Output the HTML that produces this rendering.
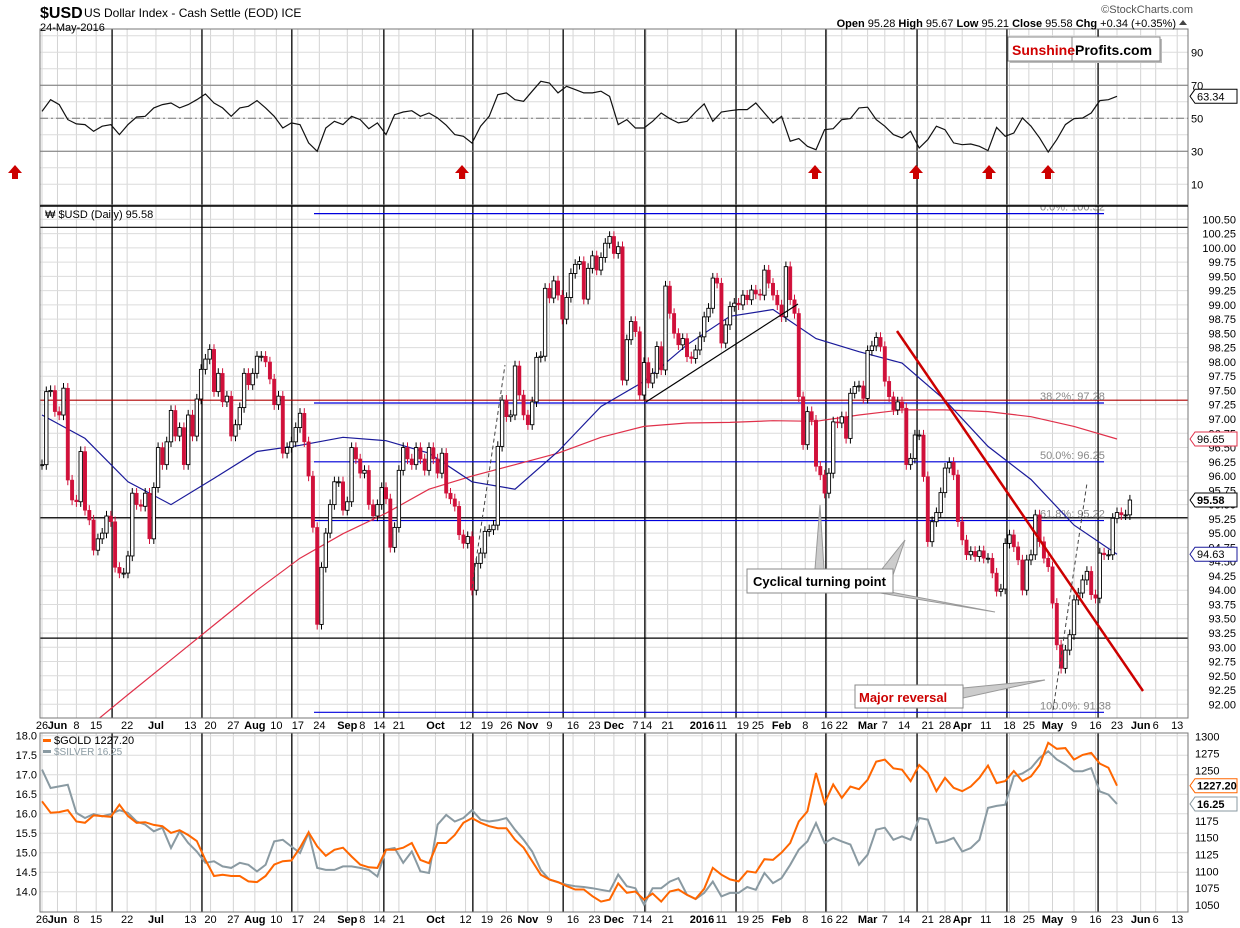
<!DOCTYPE html>
<html><head><meta charset="utf-8">
<style>
html,body{margin:0;padding:0;background:#fff;}
svg{display:block;font-family:"Liberation Sans",sans-serif;}
</style></head>
<body>
<svg id="chart" width="1240" height="928" viewBox="0 0 1240 928" xmlns="http://www.w3.org/2000/svg">
<defs>
<clipPath id="cRsi"><rect x="40" y="29" width="1148" height="176"/></clipPath>
<clipPath id="cMain"><rect x="40" y="206" width="1148" height="512"/></clipPath>
<clipPath id="cBot"><rect x="40" y="733" width="1148" height="179"/></clipPath>
</defs>
<g id="grid"></g>
<g id="cycles"></g>
<g id="rsi" clip-path="url(#cRsi)"></g>
<g id="main" clip-path="url(#cMain)"></g>
<g id="bot" clip-path="url(#cBot)"></g>
<g id="axes"></g>

<text x="40" y="18" font-size="16" font-weight="bold">$USD</text>
<text x="84" y="17" font-size="12">US Dollar Index - Cash Settle (EOD) ICE</text>
<text x="40" y="31" font-size="11">24-May-2016</text>
<text x="1193" y="13" font-size="11" fill="#555" text-anchor="end">©StockCharts.com</text>
<text x="1176" y="27" font-size="11" text-anchor="end"><tspan font-weight="bold">Open</tspan> 95.28 <tspan font-weight="bold">High</tspan> 95.67 <tspan font-weight="bold">Low</tspan> 95.21 <tspan font-weight="bold">Close</tspan> 95.58 <tspan font-weight="bold">Chg</tspan> +0.34 (+0.35%)</text>
<path d="M1179 25 L1183 20 L1187 25 Z" fill="#444"/>

<g>
<rect x="1010" y="39" width="152" height="24" fill="#bbb"/>
<rect x="1008" y="37" width="152" height="24" fill="#fff" stroke="#888"/>
<line x1="1072" y1="37" x2="1072" y2="61" stroke="#888"/>
<text x="1012" y="55" font-size="14" font-weight="bold" fill="#d00000">Sunshine</text>
<text x="1075" y="55" font-size="14" font-weight="bold" fill="#000">Profits.com</text>
</g>

<text x="45" y="218" font-size="11">₩ $USD (Daily) 95.58</text>
<g><rect x="43" y="739" width="8" height="3" fill="#ff6600"/><text x="54" y="744" font-size="11">$GOLD 1227.20</text></g>
<g><rect x="43" y="750" width="8" height="3" fill="#8a9aa2"/><text x="54" y="755" font-size="10" fill="#8a9aa2">$SILVER 16.25</text></g>

<script>
// ---------- DATA ----------
const usdCloses = [96.2,97.48,97.5,97.13,97.07,97.54,95.93,95.58,95.55,96.43,
95.4,95.23,94.7,94.9,95.0,95.3,95.2,94.4,94.3,94.3,
94.6,95.7,95.5,95.47,95.7,94.9,95.8,96.5,96.2,96.6,
97.15,96.7,96.85,96.2,97.07,96.7,97.35,97.87,98.05,98.22,
97.48,97.8,97.3,97.4,96.7,96.9,97.2,97.8,97.6,97.8,
98.1,98.1,98.0,97.7,97.25,97.4,96.4,96.5,96.6,96.85,
97.1,96.6,96.0,95.1,93.4,94.4,95.0,95.5,95.9,95.9,
95.4,95.55,96.5,96.3,96.05,96.1,95.5,95.3,95.5,95.8,
95.6,94.75,95.1,96.1,96.5,96.3,96.2,96.5,96.3,96.1,
96.5,96.3,96.05,96.4,95.7,95.6,
95.47,94.97,94.82,94.94,94.0,94.47,94.65,95.03,95.06,95.14,
96.52,97.33,97.04,97.07,97.93,97.42,97.07,96.9,97.3,98.08,
98.1,99.29,99.12,99.42,99.17,98.75,99.13,99.55,99.71,99.76,
99.1,99.64,99.86,99.61,99.83,100.08,100.2,99.9,100.02,97.68,
98.39,98.71,98.53,97.42,97.99,97.63,97.8,98.27,97.86,99.33,
98.85,98.5,98.3,98.41,98.09,98.06,98.21,98.44,98.79,98.94,
99.47,99.38,98.33,98.65,98.97,99.03,99.0,99.17,99.09,99.26,
99.19,99.17,99.61,99.38,99.17,99.0,98.79,99.67,99.09,98.85,
97.39,96.55,97.13,96.98,96.17,96.02,95.7,96.05,96.95,96.93,
97.04,96.66,97.45,97.57,97.58,97.36,98.2,98.28,98.43,98.27,
97.66,97.39,97.16,97.3,97.19,96.2,96.31,96.72,96.72,95.99,
94.85,95.2,95.36,95.71,96.14,96.24,96.02,95.2,94.88,94.62,
94.68,94.59,94.69,94.56,94.56,94.3,93.98,94.02,94.82,94.97,
94.76,94.53,94.0,94.53,94.62,95.32,94.85,94.56,94.41,93.77,
93.04,92.63,92.95,93.22,93.83,93.95,94.18,94.33,93.92,93.86,
94.65,94.62,94.62,95.26,95.36,95.32,95.32,95.58];
// 50-day MA sampled every 10 trading days
const ma50 = [97.07,96.66,95.9,95.5,95.96,96.43,96.54,96.68,96.62,96.4,95.9,95.77,96.43,97.22,97.66,98.3,98.8,98.92,98.41,98.18,97.98,97.33,96.52,95.94,95.14,94.63];
// 200-day MA sampled every 10 trading days (first sample before series start)
const ma200 = [null,91.55,92.17,92.78,93.39,94.0,94.56,94.99,95.35,95.77,96.0,96.2,96.4,96.68,96.87,96.93,96.94,96.97,96.96,97.07,97.16,97.16,97.13,97.04,96.87,96.65];
// RSI(14) sampled every 2 trading days
const rsiVals = [54.2,61.3,58.3,49.2,46.6,46.2,42.1,45.2,46.2,40.1,
46.2,50.8,51.2,56.3,58.3,59.3,56.3,58.3,61.3,64.7,
59.3,56.3,51.2,56.3,57.3,60.7,56.3,51.2,44.1,47.2,
46.2,35.1,30,44.1,48.2,46.2,51.2,49.2,43.7,47.2,
40.1,52.2,53.8,54.6,51.2,53.2,50.2,45.8,40.1,39.1,
35,45.2,51.2,64.3,65.4,61.3,60.3,66.4,72.4,71.4,
65.4,69.4,67.4,65.4,65.4,66.4,63.3,46.2,49.2,44.1,
44.1,48.2,53.2,49.8,47.2,48.2,53.8,58.7,48.2,53.8,
54.6,55.3,55.3,59.3,53.2,47.2,51.2,36.1,37.7,33.0,
31.0,43.1,43.7,49.2,49.8,56.3,56.7,49.2,45.2,40.1,
38.1,42.1,32.0,37.1,45.2,43.1,35.1,34.0,34.4,33.0,
30.4,44.5,39.1,41.1,50.2,45.2,38.1,29.6,37.1,46.2,
49.8,50.2,53.2,60.7,61.3,63.34];
// Gold & Silver sampled every 2 trading days
const goldVals = [1204,1187,1188,1191,1174,1172,1183,1182,1181,1199,
1182,1172,1173,1169,1167,1157,1161,1154,1145,1117,
1093,1095,1093,1093,1085,1084,1093,1110,1115,1116,
1135,1158,1137,1123,1132,1135,1122,1110,1106,1105,
1132,1132,1135,1142,1117,1112,1142,1142,1154,1172,
1179,1172,1167,1164,1164,1147,1135,1115,1095,1088,
1084,1078,1073,1073,1063,1055,1058,1082,1068,1070,
1058,1067,1055,1070,1073,1065,1059,1074,1105,1095,
1088,1085,1100,1098,1118,1117,1128,1142,1174,1189,
1246,1201,1229,1209,1226,1222,1236,1263,1266,1253,
1251,1234,1258,1246,1219,1239,1224,1219,1226,1239,
1257,1231,1234,1249,1234,1241,1258,1291,1282,1283,
1266,1273,1276,1260,1254,1227.2];
const silverVals = [17.13,16.66,16.70,16.74,16.02,15.89,15.99,15.93,15.99,16.09,
16.02,15.80,15.72,15.55,15.64,15.12,15.55,15.25,15.03,14.74,
14.78,14.65,14.61,14.74,14.69,14.52,14.69,15.29,15.33,15.16,
14.99,15.51,14.61,14.56,14.56,14.65,14.65,14.61,14.56,14.39,
15.08,15.12,14.74,15.03,14.52,14.48,15.72,15.97,15.80,15.89,
16.09,15.85,15.80,15.83,15.89,15.59,15.33,15.03,14.56,14.31,
14.24,14.18,14.14,14.12,14.09,14.05,14.01,14.44,14.14,14.09,
13.67,14.09,14.09,14.26,14.35,13.92,13.81,13.97,14.26,13.88,
13.97,13.97,14.12,14.05,14.48,14.22,14.35,14.69,15.08,15.29,
15.76,15.25,15.38,15.29,15.21,14.69,14.95,15.59,15.64,15.33,
15.42,15.33,15.89,15.85,15.25,15.29,15.38,15.03,15.12,15.33,
16.15,16.20,16.23,16.96,17.03,17.17,17.43,17.60,17.39,17.26,
17.09,17.09,17.17,16.57,16.49,16.25];
const weekLabels = ["26","Jun","8","15","22","Jul","13","20","27","Aug","10","17","24","Sep","8","14","21","Oct","12","19","26","Nov","9","16","23","Dec","7","14","21","2016","11","19","25","Feb","8","16","22","Mar","7","14","21","28","Apr","11","18","25","May","9","16","23","Jun","6","13"];
const weekLabelDays = [0,3.6,8,12.6,19.8,26.5,34.5,39.2,44.5,49.5,54.5,59.5,64.5,71,74.5,78.5,83,91.5,98.5,103.5,108,113,118,123.5,128.5,133,138,140.5,145.5,153.5,158,163,166.5,172,177.5,182.5,186,192,196,200.5,206,210,214,219.5,225,229.5,235,240,245,250,255.5,259,264];
const priceTicks = [92,92.25,92.5,92.75,93,93.25,93.5,93.75,94,94.25,94.5,94.75,95,95.25,95.5,95.75,96,96.25,96.5,96.75,97,97.25,97.5,97.75,98,98.25,98.5,98.75,99,99.25,99.5,99.75,100,100.25,100.5];
const rsiTicks = [10,30,50,70,90];
const goldTicks = [1050,1075,1100,1125,1150,1175,1200,1225,1250,1275,1300];
const silverTicks = [14.0,14.5,15.0,15.5,16.0,16.5,17.0,17.5,18.0];
const cycleDays = [16.3,37.2,58.1,79.5,100.2,121.2,140.2,161.4,182.3,203.5,224.4,245.6];
const SAMPLE_STEP = 2;

// ---------- SCALES ----------
const xD = i => 42 + i*4.3;
const yP = p => 219.3 + (100.5-p)*57.06;
const yR = r => 118.3 - (r-50)*1.65;
const yS = s => 735.7 + (18-s)*39;
const yG = g => 736.7 + (1300-g)*0.673;
const NS = "http://www.w3.org/2000/svg";
function mk(parent, tag, attrs, txt){
  const e = document.createElementNS(NS, tag);
  for (const k in attrs) e.setAttribute(k, attrs[k]);
  if (txt !== undefined) e.textContent = txt;
  parent.appendChild(e); return e;
}
const G = document.getElementById('grid'), CY = document.getElementById('cycles');
const R = document.getElementById('rsi'), M = document.getElementById('main'), B = document.getElementById('bot'), AX = document.getElementById('axes');

[[29,205],[206,718],[733,912]].forEach(([t,b])=>{
  weekLabelDays.forEach(d=>{
    const x = xD(d);
    if (x>40 && x<1188) {
      const l = mk(G,'line',{x1:x,y1:t,x2:x,y2:b,stroke:'#d4d4d4','stroke-width':1});
      
      
    }
  });
});
rsiTicks.forEach(v=>{ [v, v+10].forEach(w=>{ if (w<=100){ const l=mk(G,'line',{x1:40,y1:yR(w),x2:1188,y2:yR(w),stroke:'#dcdcdc'});   } }); });
priceTicks.forEach(p=>{ const l=mk(G,'line',{x1:40,y1:yP(p),x2:1188,y2:yP(p),stroke:'#dcdcdc'});   });
silverTicks.forEach(s=>{ const l=mk(G,'line',{x1:40,y1:yS(s),x2:1188,y2:yS(s),stroke:'#dcdcdc'});   });

cycleDays.forEach(d=>{
  const x = xD(d);
  [[29,205],[206,718],[733,912]].forEach(([t,b])=>{
    const l = mk(CY,'line',{x1:x,y1:t,x2:x,y2:b,stroke:'#000','stroke-width':1.3});
    
    
  });
});

// ---------- RSI ----------
[[70,'#777',''],[30,'#777',''],[50,'#777','8 3 2 3']].forEach(([v,c,da])=>{
  const l = mk(R,'line',{x1:40,y1:yR(v),x2:1188,y2:yR(v),stroke:c,'stroke-dasharray':da});
  
  
});
const rsiPath = mk(R,'path',{d:rsiVals.map((v,i)=>(i?'L':'M')+xD(i*SAMPLE_STEP).toFixed(1)+' '+yR(v).toFixed(1)).join(' '),fill:'none',stroke:'#111','stroke-width':1.2});


[15,462,815,916,989,1048].forEach(x=>{
  const a = mk(document.getElementById('chart'),'path',{d:`M${x-7} 173 L${x} 165 L${x+7} 173 L${x+3} 173 L${x+3} 179 L${x-3} 179 L${x-3} 173 Z`,fill:'#cc0000'});
  
  
});

// ---------- MAIN ----------
[[100.36,'#000',40,1188],[95.27,'#000',40,1188],[93.16,'#000',40,1188],[97.33,'#b00000',40,1188]].forEach(([p,c,a,b])=>{
  const l=mk(M,'line',{x1:a,y1:yP(p),x2:b,y2:yP(p),stroke:c,'stroke-width':1.2});
  
  
});
[[100.6,'0.0%: 100.32'],[97.28,'38.2%: 97.28'],[96.25,'50.0%: 96.25'],[95.22,'61.8%: 95.22'],[91.86,'100.0%: 91.38']].forEach(([p,t])=>{
  const y=yP(p);
  const l=mk(M,'line',{x1:314,y1:y,x2:1104,y2:y,stroke:'#0000dd','stroke-width':1.2});
  
  
  const tx=mk(M,'text',{x:1040,y:y-3,'font-size':11,fill:'#888'},t);
  
  
});
function maPath(arr,color,name){
  let d='';
  arr.forEach((v,i)=>{ if(v===null) return; d += (d?'L':'M')+xD(i*10).toFixed(1)+' '+yP(v).toFixed(1)+' '; });
  const p=mk(M,'path',{d:d,fill:'none',stroke:color,'stroke-width':1.2});
  
  
}
maPath(ma200,'#e0304a','ma200-line');
maPath(ma50,'#1a1a9a','ma50-line');
usdCloses.forEach((c,i)=>{
  const o = i>0 ? usdCloses[i-1] : c;
  const up = c >= o;
  const x = xD(i);
  const hi = Math.max(o,c)+0.09, lo = Math.min(o,c)-0.09;
  const w = mk(M,'line',{x1:x,y1:yP(hi),x2:x,y2:yP(lo),stroke:up?'#000':'#d0103a','stroke-width':1});
  
  
  const yt = yP(Math.max(o,c)), yb = yP(Math.min(o,c));
  const r = mk(M,'rect',{x:x-1.7,y:yt,width:3.4,height:Math.max(1,yb-yt),fill:up?'#fff':'#d0103a',stroke:up?'#000':'#d0103a','stroke-width':up?0.9:0.5});
  
  
});
const tl1=mk(M,'line',{x1:897,y1:331,x2:1143,y2:691,stroke:'#cc0000','stroke-width':2.5});


const tl2=mk(M,'line',{x1:646,y1:402,x2:798,y2:304,stroke:'#000','stroke-width':1.2});


[[472,588,505,365],[1053,710,1087,483]].forEach(([a,b,c,d])=>{
  const l=mk(M,'line',{x1:a,y1:b,x2:c,y2:d,stroke:'#444','stroke-width':1,'stroke-dasharray':'4 3'});
  
  
});
const co = mk(M,'g',{});


mk(co,'path',{d:'M815 569 L820 505 L824 569 Z M882 569 L905 540 L893 575 Z M880 590 L995 612 L880 593 Z',fill:'#ccc',stroke:'#999'});
mk(co,'rect',{x:747,y:569,width:146,height:24,fill:'#fff',stroke:'#888'});
mk(co,'text',{x:753,y:586,'font-size':13,'font-weight':'bold'},'Cyclical turning point');
const mr = mk(M,'g',{});


mk(mr,'path',{d:'M963 688 L1045 680 L963 698 Z',fill:'#ccc',stroke:'#999'});
mk(mr,'rect',{x:855,y:685,width:108,height:23,fill:'#fff',stroke:'#888'});
mk(mr,'text',{x:859,y:702,'font-size':13,'font-weight':'bold',fill:'#cc0000'},'Major reversal');

// ---------- GOLD / SILVER ----------
const sp=mk(B,'path',{d:silverVals.map((v,i)=>(i?'L':'M')+xD(i*SAMPLE_STEP).toFixed(1)+' '+yS(v).toFixed(1)).join(' '),fill:'none',stroke:'#8a9aa2','stroke-width':2});


const gp=mk(B,'path',{d:goldVals.map((v,i)=>(i?'L':'M')+xD(i*SAMPLE_STEP).toFixed(1)+' '+yG(v).toFixed(1)).join(' '),fill:'none',stroke:'#ff6600','stroke-width':2});



// ---------- AXES ----------
[[29,205],[206,718],[733,912]].forEach(([t,b])=>{
  const r=mk(AX,'rect',{x:40,y:t,width:1148,height:b-t,fill:'none',stroke:'#777'});
  
  
});
mk(AX,'line',{x1:40,y1:206,x2:1188,y2:206,stroke:'#000','stroke-width':1.5});
rsiTicks.forEach(v=>{
  const t=mk(AX,'text',{x:1191,y:yR(v)+4,'font-size':11},String(v));
  
  
});
priceTicks.forEach(p=>{
  const t=mk(AX,'text',{x:1236,y:yP(p)+4,'font-size':11,'text-anchor':'end'},p.toFixed(2));
  
  
});
goldTicks.forEach(g=>{
  const t=mk(AX,'text',{x:1195,y:yG(g)+4,'font-size':11},String(g));
  
  
});
silverTicks.forEach(s=>{
  const t=mk(AX,'text',{x:37,y:yS(s)+4,'font-size':11,'text-anchor':'end'},s.toFixed(1));
  
  
});
function tag(y,txt,color,name,bold){
  const g=mk(AX,'g',{});
  
  
  mk(g,'path',{d:`M1190 ${y} L1195 ${y-7} L1237 ${y-7} L1237 ${y+7} L1195 ${y+7} Z`,fill:'#fff',stroke:color});
  mk(g,'text',{x:1197,y:y+4,'font-size':11,'font-weight':bold?'bold':'normal',fill:'#000'},txt);
}
tag(yR(rsiVals[rsiVals.length-1]),'63.34','#000','rsi-value-tag',false);
tag(yP(ma200[ma200.length-1]),'96.65','#e0304a','ma200-value-tag',false);
tag(yP(usdCloses[usdCloses.length-1]),'95.58','#000','price-value-tag',true);
tag(yP(ma50[ma50.length-1]),'94.63','#1a1a9a','ma50-value-tag',false);
tag(yG(goldVals[goldVals.length-1]),'1227.20','#ff6600','gold-value-tag',true);
tag(yS(silverVals[silverVals.length-1]),'16.25','#8a9aa2','silver-value-tag',true);
const bold = new Set(["Jun","Jul","Aug","Sep","Oct","Nov","Dec","2016","Feb","Mar","Apr","May"]);
[729,923].forEach(yy=>{
  weekLabels.forEach((lab,i)=>{
    const x = xD(weekLabelDays[i]);
    const t=mk(AX,'text',{x:x,y:yy,'font-size':11,'text-anchor':'middle','font-weight':bold.has(lab)?'bold':'normal'},lab);
    
    
  });
});
</script>
</svg>
</body></html>
